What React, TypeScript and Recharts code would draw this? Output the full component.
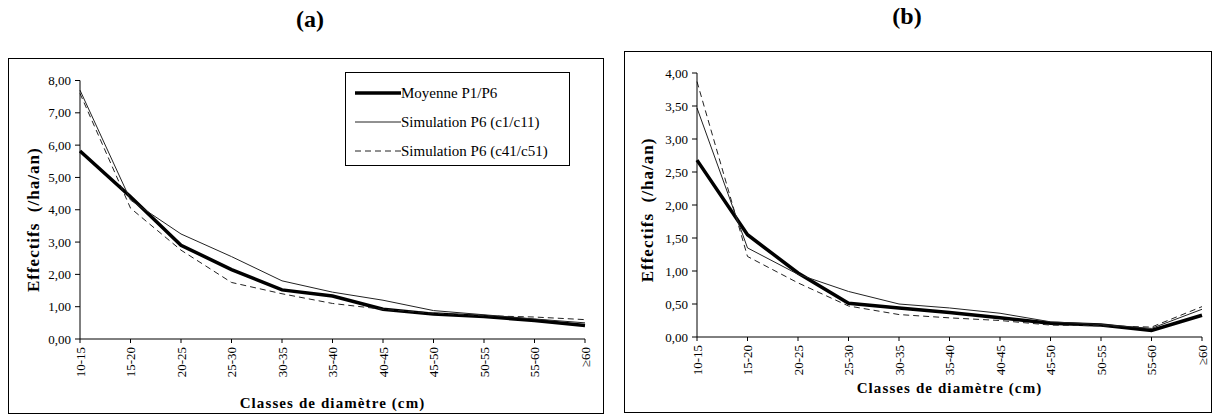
import React from 'react';
import { LineChart, Line, XAxis, YAxis, Legend } from 'recharts';

const categories = ['10-15', '15-20', '20-25', '25-30', '30-35', '35-40', '40-45', '45-50', '50-55', '55-60', '≥60'];

const aMoyenne = [5.82, 4.4, 2.9, 2.15, 1.52, 1.33, 0.92, 0.77, 0.7, 0.57, 0.42];
const aSimC1 = [7.7, 4.3, 3.25, 2.55, 1.8, 1.45, 1.2, 0.88, 0.75, 0.62, 0.5];
const aSimC41 = [7.6, 4.05, 2.75, 1.75, 1.4, 1.1, 0.92, 0.8, 0.72, 0.68, 0.6];

const bMoyenne = [2.68, 1.55, 0.97, 0.51, 0.44, 0.37, 0.29, 0.21, 0.18, 0.1, 0.33];
const bSimC1 = [3.47, 1.35, 0.95, 0.69, 0.5, 0.44, 0.36, 0.23, 0.19, 0.13, 0.42];
const bSimC41 = [3.87, 1.22, 0.82, 0.47, 0.34, 0.29, 0.25, 0.18, 0.17, 0.15, 0.46];

const aTicks = [0, 1, 2, 3, 4, 5, 6, 7, 8];
const bTicks = [0, 0.5, 1, 1.5, 2, 2.5, 3, 3.5, 4];

const legendLabels = ['Moyenne P1/P6', 'Simulation P6 (c1/c11)', 'Simulation P6 (c41/c51)'];

const SERIF = '"Liberation Serif", "DejaVu Serif", "Times New Roman", serif';

const dataA = categories.map((c, i) => ({ cat: c, moy: aMoyenne[i], c1: aSimC1[i], c41: aSimC41[i] }));
const dataB = categories.map((c, i) => ({ cat: c, moy: bMoyenne[i], c1: bSimC1[i], c41: bSimC41[i] }));

const fmt = (v: number) => v.toFixed(2).replace('.', ',');

const XTick = (props: any) => {
  const { x, y, payload } = props;
  return (
    <g transform={`translate(${x},${y})`}>
      <text x={-2} y={0} dy="0.35em" transform="rotate(-90)" textAnchor="end" fontFamily={SERIF} fontSize={13} fill="#000">
        {payload.value}
      </text>
    </g>
  );
};

const YTick = (props: any) => {
  const { x, y, payload } = props;
  return (
    <text x={x - 2} y={y} dy="0.35em" textAnchor="end" fontFamily={SERIF} fontSize={13} fill="#000">
      {fmt(payload.value)}
    </text>
  );
};

const makeYLabel = (cx: number, shiftY: number) => (props: any) => {
  const vb = props.viewBox || {};
  const cy = vb.y + vb.height / 2 + shiftY;
  return (
    <text x={cx} y={cy} transform={`rotate(-90, ${cx}, ${cy})`} textAnchor="middle" dominantBaseline="central"
      fontFamily={SERIF} fontWeight="bold" fontSize={17} letterSpacing={1} fill="#000" style={{ whiteSpace: 'pre' }}>
      Effectifs  (/ha/an)
    </text>
  );
};

const LegendBox = () => (
  <div style={{ width: 225, height: 94, border: '1px solid #000', background: '#fff', boxSizing: 'border-box', position: 'relative', fontFamily: SERIF, fontSize: 15 }}>
    {legendLabels.map((lab, i) => (
      <div key={lab} style={{ position: 'absolute', left: 0, top: 10 + i * 29, height: 20, display: 'flex', alignItems: 'center' }}>
        <svg width={55} height={20}>
          {i === 0 && <line x1={9} y1={10} x2={55} y2={10} stroke="#000" strokeWidth={3.5} />}
          {i === 1 && <line x1={9} y1={10} x2={55} y2={10} stroke="#222" strokeWidth={1} />}
          {i === 2 && <line x1={9} y1={10} x2={55} y2={10} stroke="#222" strokeWidth={1} strokeDasharray="6 4" />}
        </svg>
        <span style={{ whiteSpace: 'nowrap', color: '#000' }}>{lab}</span>
      </div>
    ))}
  </div>
);

export default function App() {
  return (
    <div style={{ position: 'absolute', left: 0, top: 0, width: 1213, height: 417, background: '#fff', overflow: 'hidden' }}>
      <div style={{ position: 'absolute', left: 270, top: 6, width: 80, textAlign: 'center', fontFamily: SERIF, fontWeight: 'bold', fontSize: 24 }}>(a)</div>
      <div style={{ position: 'absolute', left: 867, top: 3, width: 80, textAlign: 'center', fontFamily: SERIF, fontWeight: 'bold', fontSize: 24 }}>(b)</div>
      <div style={{ position: 'absolute', left: 8, top: 58, width: 596, height: 356, border: '1px solid #000', boxSizing: 'border-box' }} />
      <div style={{ position: 'absolute', left: 624, top: 51, width: 588, height: 362, border: '1px solid #000', boxSizing: 'border-box' }} />

      <div style={{ position: 'absolute', left: 0, top: 0 }}>
        <LineChart width={610} height={417} data={dataA} margin={{ top: 80.5, right: 25, bottom: 18, left: 20 }}>
          <XAxis dataKey="cat" tick={<XTick />} interval={0} height={60} stroke="#000" tickSize={4} padding={{ left: 0, right: 0 }}
            label={{ value: 'Classes de diamètre (cm)', position: 'insideBottom', offset: -9, fontFamily: SERIF, fontWeight: 'bold', fontSize: 15, fill: '#000', letterSpacing: 1.1 }} />
          <YAxis domain={[0, 8]} ticks={aTicks} tick={<YTick />} width={60} stroke="#000" tickSize={5} interval={0}
            label={makeYLabel(33, 10)} />
          <Legend layout="vertical" verticalAlign="middle" align="center" content={<LegendBox />} wrapperStyle={{ position: 'absolute', left: 345, top: 72, width: 225 }} />
          <Line dataKey="moy" name={legendLabels[0]} stroke="#000" strokeWidth={3.5} dot={false} isAnimationActive={false} />
          <Line dataKey="c1" name={legendLabels[1]} stroke="#222" strokeWidth={1} dot={false} isAnimationActive={false} />
          <Line dataKey="c41" name={legendLabels[2]} stroke="#222" strokeWidth={1} strokeDasharray="6 4" dot={false} isAnimationActive={false} />
        </LineChart>
      </div>

      <div style={{ position: 'absolute', left: 610, top: 0 }}>
        <LineChart width={603} height={417} data={dataB} margin={{ top: 73, right: 11, bottom: 20, left: 27 }}>
          <XAxis dataKey="cat" tick={<XTick />} interval={0} height={60} stroke="#000" tickSize={4} padding={{ left: 0, right: 0 }}
            label={{ value: 'Classes de diamètre (cm)', position: 'insideBottom', offset: 4, fontFamily: SERIF, fontWeight: 'bold', fontSize: 15, fill: '#000', letterSpacing: 1.1 }} />
          <YAxis domain={[0, 4]} ticks={bTicks} tick={<YTick />} width={60} stroke="#000" tickSize={5} interval={0}
            label={makeYLabel(37, 5)} />
          <Line dataKey="moy" name={legendLabels[0]} stroke="#000" strokeWidth={3.5} dot={false} isAnimationActive={false} />
          <Line dataKey="c1" name={legendLabels[1]} stroke="#222" strokeWidth={1} dot={false} isAnimationActive={false} />
          <Line dataKey="c41" name={legendLabels[2]} stroke="#222" strokeWidth={1} strokeDasharray="6 4" dot={false} isAnimationActive={false} />
        </LineChart>
      </div>
    </div>
  );
}
